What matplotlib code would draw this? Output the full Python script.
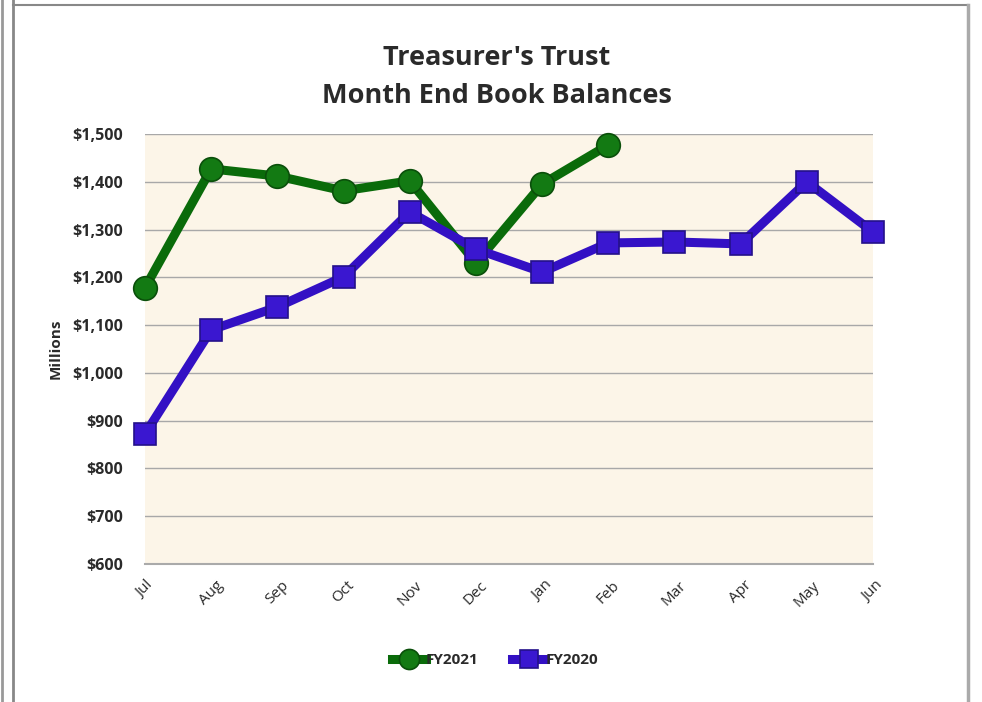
import matplotlib
matplotlib.use("Agg")
import matplotlib.pyplot as plt
from matplotlib.lines import Line2D
from matplotlib.ticker import FuncFormatter, MultipleLocator

months = ["Jul", "Aug", "Sep", "Oct", "Nov", "Dec", "Jan", "Feb", "Mar", "Apr", "May", "Jun"]
fy2021 = [1178, 1427, 1412, 1381, 1402, 1230, 1395, 1477]
fy2020 = [872, 1090, 1138, 1201, 1337, 1259, 1211, 1272, 1274, 1270, 1400, 1295]

plt.rcParams['font.family'] = ['Open Sans', 'DejaVu Sans']
text_color = '#2a2a2a'

fig = plt.figure(figsize=(9.82, 7.02), dpi=100)
W, H = 982, 702
ax = fig.add_axes([145 / W, 1 - 564 / H, (873 - 145) / W, (564 - 134) / H])

# frame lines
for x, lw, c in [(2 / W, 2.0, '#999999'), (13 / W, 2.0, '#888888')]:
    fig.add_artist(Line2D([x, x], [0, 1], transform=fig.transFigure, color=c, lw=lw))
fig.add_artist(Line2D([13 / W, 968 / W], [1 - 5 / H, 1 - 5 / H], transform=fig.transFigure, color='#888888', lw=1.5))
fig.add_artist(Line2D([968 / W, 968 / W], [0, 1 - 5 / H], transform=fig.transFigure, color='#aaaaaa', lw=2.5))

ax.set_facecolor('#fcf5e8')
x20 = list(range(len(fy2020)))
x21 = list(range(len(fy2021)))

ax.plot(x21, fy2021, color='#0a6b0a', lw=6.5, marker='o', markersize=17,
        markerfacecolor='#137a13', markeredgecolor='#0a4f0a', markeredgewidth=1.2,
        label='FY2021', zorder=3, clip_on=False)
ax.plot(x20, fy2020, color='#3310c4', lw=6.5, marker='s', markersize=16,
        markerfacecolor='#3a17d0', markeredgecolor='#24108a', markeredgewidth=1.2,
        label='FY2020', zorder=4, clip_on=False)

ax.set_xlim(0, 11)
ax.set_ylim(600, 1500)
ax.yaxis.set_major_locator(MultipleLocator(100))
ax.yaxis.set_major_formatter(FuncFormatter(lambda v, p: f"${v:,.0f}"))
ax.grid(axis='y', color='#a8a8a8', lw=1)
ax.set_axisbelow(True)
ax.set_xticks(range(len(months)))
ax.set_xticklabels(months, rotation=45, fontsize=11, color=text_color)
for lab in ax.get_xticklabels():
    lab.set_ha('center')
for lab in ax.get_yticklabels():
    lab.set_fontweight('bold')
    lab.set_fontsize(11.5)
    lab.set_color(text_color)
ax.tick_params(axis='both', length=0)
ax.tick_params(axis='y', pad=16)
ax.tick_params(axis='x', pad=10)
for s in ['top', 'right', 'left']:
    ax.spines[s].set_visible(False)
ax.spines['bottom'].set_color('#aaaaaa')
ax.spines['bottom'].set_linewidth(1.5)

ax.set_ylabel('Millions', fontsize=11, fontweight='bold', color=text_color, labelpad=7)

fig.text(497 / W, 1 - 58 / H, "Treasurer's Trust", ha='center', va='center',
         fontsize=19.5, fontweight='bold', color=text_color)
fig.text(497 / W, 1 - 96 / H, "Month End Book Balances", ha='center', va='center',
         fontsize=19.5, fontweight='bold', color=text_color)

leg = fig.legend(loc='center', bbox_to_anchor=(495 / W, 1 - 660 / H), ncol=2, frameon=False,
                 prop={'weight': 'bold', 'size': 11}, handlelength=2.2, handletextpad=0.0,
                 columnspacing=2.2, markerscale=0.85)
for t in leg.get_texts():
    t.set_color(text_color)

fig.savefig('out.png', dpi=100)
